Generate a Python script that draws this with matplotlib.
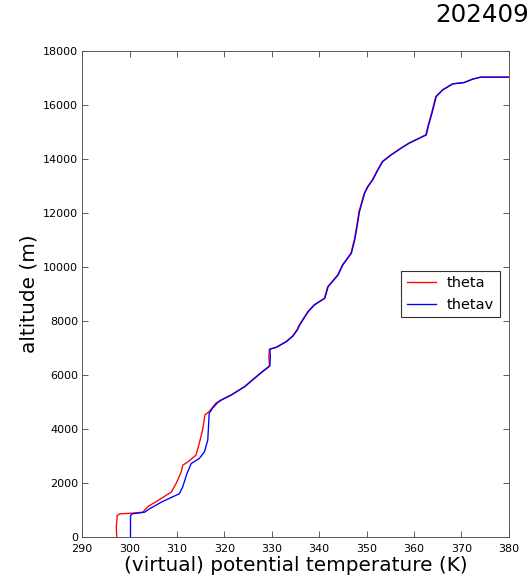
import matplotlib
matplotlib.use("Agg")
import matplotlib.pyplot as plt

# valores: altitude (m) e temperatura potencial (K)
alt_theta = [0, 360, 795, 857, 882, 920, 1130, 1354, 1665, 1975, 2410, 2658, 2782,
             3031, 3466, 3962, 4521, 4645, 4956, 5074, 5260, 5567, 5878, 6086, 6334,
             6678, 6952, 7026, 7234, 7445, 7667, 7852, 8345, 8593, 8841, 9271, 9704,
             10075, 10508, 11001, 11494, 12049, 12482, 12731, 12975, 13223, 13593,
             13901, 14149, 14397, 14583, 14890, 15260, 15694, 16309, 16557, 16779,
             16828, 16954, 17028, 17028]
theta = [297.3, 297.2, 297.4, 297.9, 300.4, 302.8, 303.9, 306.0, 308.8, 309.8, 310.9,
         311.2, 312.3, 314.0, 314.7, 315.4, 315.9, 316.8, 318.2, 319.3, 321.4, 324.2,
         326.3, 327.7, 329.5, 329.4, 329.5, 330.9, 333.0, 334.4, 335.3, 335.8, 337.6,
         338.9, 341.1, 341.8, 343.9, 344.9, 346.7, 347.4, 347.9, 348.4, 349.1, 349.5,
         350.2, 351.2, 352.3, 353.3, 355.1, 357.2, 358.9, 362.5, 363.0, 363.7, 364.6,
         366.0, 368.1, 370.5, 372.3, 374.0, 382.0]

alt_thetav = [0, 795, 857, 920, 1044, 1292, 1603, 1851, 2348, 2720, 2907, 3155, 3590,
              4583, 4770, 4981, 5074, 5260, 5567, 5878, 6086, 6334, 6678, 6952, 7026,
              7234, 7445, 7667, 7852, 8345, 8593, 8841, 9271, 9704, 10075, 10508,
              11001, 11494, 12049, 12482, 12731, 12975, 13223, 13593, 13901, 14149,
              14397, 14583, 14890, 15260, 15694, 16309, 16557, 16779, 16828, 16954,
              17028, 17028]
thetav = [300.2, 300.2, 300.5, 303.2, 304.2, 306.7, 310.5, 311.2, 312.1, 313.0, 314.7,
          315.8, 316.5, 316.8, 317.5, 318.6, 319.4, 321.5, 324.3, 326.4, 327.8, 329.6,
          329.7, 329.6, 331.0, 333.1, 334.5, 335.4, 335.9, 337.7, 339.0, 341.2, 341.9,
          344.0, 345.0, 346.8, 347.5, 348.0, 348.5, 349.2, 349.6, 350.3, 351.3, 352.4,
          353.4, 355.2, 357.3, 359.0, 362.6, 363.1, 363.8, 364.7, 366.1, 368.2, 370.6,
          372.4, 374.1, 382.0]

titulo = "202409"

fig = plt.figure(figsize=(530 / 80, 585 / 80), dpi=80)
ax = fig.add_axes([0.155, 0.082, 0.805, 0.831])

ax.plot(theta, alt_theta, color="red", lw=1.2, label="theta")
ax.plot(thetav, alt_thetav, color="blue", lw=1.2, label="thetav")

ax.set_xlim(290, 380)
ax.set_ylim(0, 18000)
ax.set_xticks(range(290, 381, 10))
ax.set_yticks(range(0, 18001, 2000))
ax.tick_params(direction="in", top=True, right=True, labelsize=10, colors="0.3",
               labelcolor="black", length=5)
ax.tick_params(axis="x", pad=6)
for s in ax.spines.values():
    s.set_color("0.3")

ax.set_xlabel("(virtual) potential temperature (K)", fontsize=18, labelpad=2)
ax.set_ylabel("altitude (m)", fontsize=18)

leg = ax.legend(loc="center right", fontsize=13, fancybox=False, handlelength=2,
                borderaxespad=0.6)
leg.get_frame().set_edgecolor("black")

fig.text(435 / 530, 1 - 22 / 585, titulo, fontsize=22, ha="left", va="baseline")

fig.savefig("out.png", dpi=80)
